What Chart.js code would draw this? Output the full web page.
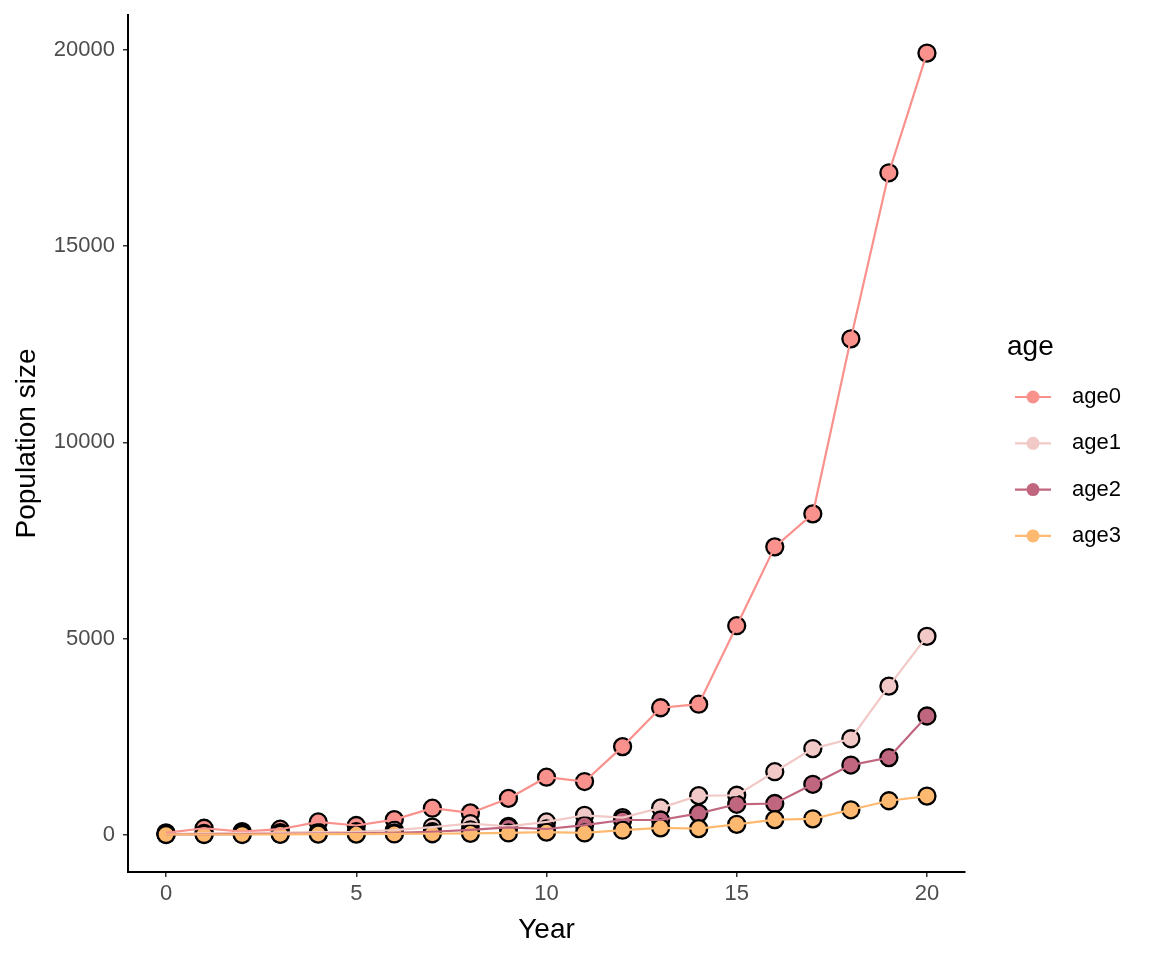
<!DOCTYPE html>
<html>
<head>
<meta charset="utf-8">
<title>Population size by age</title>
<script src="https://cdn.jsdelivr.net/npm/chart.js@4"></script>
<style>
  html, body { margin: 0; padding: 0; background: #ffffff; }
  #wrap { width: 1152px; height: 960px; position: relative; }
</style>
</head>
<body>
<div id="wrap"><canvas id="popChart"></canvas></div>
<script>
// data
const years = [0, 1, 2, 3, 4, 5, 6, 7, 8, 9, 10, 11, 12, 13, 14, 15, 16, 17, 18, 19, 20];
const age0 = [50, 170, 85, 145, 330, 240, 390, 680, 560, 930, 1470, 1360, 2250, 3240, 3330, 5330, 7340, 8180, 12640, 16870, 19920];
const age1 = [20, 40, 50, 60, 70, 80, 120, 200, 290, 220, 330, 500, 440, 690, 1000, 1010, 1610, 2200, 2450, 3790, 5060];
const age2 = [10, 15, 20, 30, 35, 40, 50, 80, 130, 190, 150, 250, 380, 380, 550, 780, 800, 1290, 1780, 1970, 3030];
const age3 = [10, 10, 10, 15, 20, 20, 25, 30, 40, 50, 70, 50, 120, 180, 160, 270, 390, 410, 640, 870, 990];
const seriesNames = ['age0', 'age1', 'age2', 'age3'];
const seriesValues = [age0, age1, age2, age3];
const seriesColors = ['#f9918d', '#f1c9c7', '#c0667f', '#feb971'];
const xTicks = [0, 5, 10, 15, 20];
const yTicks = [0, 5000, 10000, 15000, 20000];

const FONT = '"Liberation Sans", Arial, sans-serif';

function toPoints(values) {
  return years.map((yr, i) => ({ x: yr, y: values[i] }));
}

// ggplot draws points first, then lines on top, so split each series in two
const datasets = [];
seriesNames.forEach((name, i) => {
  datasets.push({
    label: name,
    kind: 'points',
    data: toPoints(seriesValues[i]),
    showLine: false,
    pointRadius: 8.5,
    pointHoverRadius: 8.5,
    pointBackgroundColor: seriesColors[i],
    pointBorderColor: '#000000',
    pointBorderWidth: 2.3,
    order: 7 - i
  });
});
seriesNames.forEach((name, i) => {
  datasets.push({
    label: name + ' line',
    kind: 'line',
    data: toPoints(seriesValues[i]),
    showLine: true,
    borderColor: seriesColors[i],
    borderWidth: 2.2,
    pointRadius: 0,
    pointHoverRadius: 0,
    tension: 0,
    order: 3 - i
  });
});

// legend on the right, ggplot style
const ageLegend = {
  id: 'ageLegend',
  afterDraw(chart) {
    const ctx = chart.ctx;
    ctx.save();
    ctx.fillStyle = '#000000';
    ctx.font = '28px ' + FONT;
    ctx.textAlign = 'left';
    ctx.textBaseline = 'middle';
    ctx.fillText('age', 1007, 347);

    const pts = chart.data.datasets.filter(d => d.kind === 'points');
    pts.forEach((d, i) => {
      const y = 397 + i * 46.3;
      ctx.strokeStyle = d.pointBackgroundColor;
      ctx.lineWidth = 2.2;
      ctx.beginPath();
      ctx.moveTo(1015, y);
      ctx.lineTo(1051, y);
      ctx.stroke();
      ctx.fillStyle = d.pointBackgroundColor;
      ctx.beginPath();
      ctx.arc(1033, y, 6.5, 0, Math.PI * 2);
      ctx.fill();
      ctx.fillStyle = '#000000';
      ctx.font = '22px ' + FONT;
      ctx.fillText(d.label, 1072, y);
    });
    ctx.restore();
  }
};

const ctx = document.getElementById('popChart').getContext('2d');
new Chart(ctx, {
  type: 'scatter',
  data: { datasets: datasets },
  options: {
    responsive: true,
    maintainAspectRatio: false,
    animation: false,
    layout: {
      padding: { top: 15, right: 187, bottom: 0, left: 0 }
    },
    plugins: {
      legend: { display: false },
      tooltip: { enabled: false }
    },
    scales: {
      x: {
        type: 'linear',
        min: -1,
        max: 21,
        afterBuildTicks: function(scale) {
          scale.ticks = xTicks.map(v => ({ value: v }));
        },
        afterFit: function(scale) {
          scale.height = 88;
        },
        ticks: {
          color: '#4d4d4d',
          font: { size: 22, family: FONT },
          padding: 4,
          maxRotation: 0,
          callback: function(value) { return String(value); }
        },
        grid: {
          drawOnChartArea: false,
          drawTicks: true,
          tickLength: 5,
          color: '#333333',
          lineWidth: 1.5
        },
        border: { color: '#000000', width: 2 },
        title: {
          display: true,
          text: 'Year',
          color: '#000000',
          font: { size: 28, family: FONT },
          padding: { top: 4, bottom: 13 }
        }
      },
      y: {
        type: 'linear',
        min: -945,
        max: 20890,
        afterBuildTicks: function(scale) {
          scale.ticks = yTicks.map(v => ({ value: v }));
        },
        afterFit: function(scale) {
          scale.width = 128;
          // the top label sits well inside the range, no extra room needed
          scale.paddingTop = 0;
          scale.paddingBottom = 0;
        },
        ticks: {
          color: '#4d4d4d',
          font: { size: 22, family: FONT },
          padding: 8,
          callback: function(value) { return String(value); }
        },
        grid: {
          drawOnChartArea: false,
          drawTicks: true,
          tickLength: 5,
          color: '#333333',
          lineWidth: 1.5
        },
        border: { color: '#000000', width: 2 },
        title: {
          display: true,
          text: 'Population size',
          color: '#000000',
          font: { size: 28, family: FONT },
          padding: { top: 10, bottom: 0 }
        }
      }
    }
  },
  plugins: [ageLegend]
});
</script>
</body>
</html>
